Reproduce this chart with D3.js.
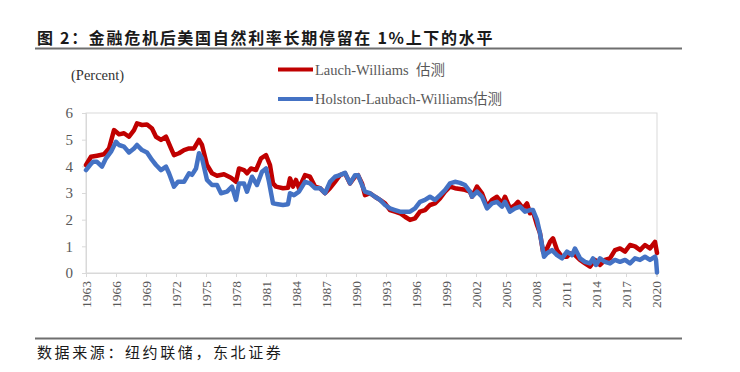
<!DOCTYPE html>
<html>
<head>
<meta charset="utf-8">
<script src="https://cdn.jsdelivr.net/npm/d3@7"></script>
<style>
  html, body { margin: 0; padding: 0; background: #fff; }
  svg { display: block; }
</style>
</head>
<body>
<svg id="chart" width="740" height="372"></svg>
<script>
const titleText = "图 2：金融危机后美国自然利率长期停留在 1%上下的水平";
const sourceText = "数据来源：纽约联储，东北证券";
const unitText = "(Percent)";
const seriesNames = ["Lauch-Williams  估测", "Holston-Laubach-Williams估测"];
const yTicks = [0, 1, 2, 3, 4, 5, 6];
const xTickYears = [1963, 1966, 1969, 1972, 1975, 1978, 1981, 1984, 1987, 1990, 1993, 1996, 1999, 2002, 2005, 2008, 2011, 2014, 2017, 2020];

const lwYears = [1963.0,1963.5,1964.1,1964.8,1965.3,1965.8,1966.3,1966.8,1967.3,1967.8,1968.1,1968.6,1969.1,1969.6,1970.0,1970.5,1971.0,1971.5,1971.8,1972.3,1972.8,1973.3,1973.8,1974.3,1974.6,1975.1,1975.6,1976.1,1976.8,1977.5,1978.0,1978.3,1978.8,1979.1,1979.5,1980.0,1980.5,1981.0,1981.4,1981.7,1982.0,1982.7,1983.2,1983.4,1983.7,1984.0,1984.3,1984.9,1985.4,1985.9,1986.4,1986.9,1987.4,1987.9,1988.4,1988.9,1989.4,1989.9,1990.2,1990.6,1990.9,1991.4,1991.9,1992.4,1992.9,1993.4,1993.9,1994.4,1994.9,1995.4,1995.9,1996.4,1996.9,1997.4,1997.9,1998.4,1998.9,1999.4,1999.9,2000.4,2000.9,2001.4,2001.6,2002.1,2002.6,2003.1,2003.6,2004.1,2004.6,2004.9,2005.4,2005.9,2006.2,2006.7,2007.1,2007.4,2007.7,2008.1,2008.4,2008.7,2009.1,2009.4,2009.7,2010.1,2010.6,2011.1,2011.4,2011.9,2012.4,2012.9,2013.4,2013.9,2014.4,2014.9,2015.4,2015.9,2016.4,2016.9,2017.4,2017.9,2018.4,2018.9,2019.4,2019.9,2020.1];
const lwValues = [4.05,4.36,4.40,4.45,4.67,5.36,5.20,5.24,5.11,5.36,5.61,5.55,5.57,5.42,5.11,4.99,5.11,4.67,4.42,4.49,4.61,4.67,4.67,4.99,4.80,4.05,3.74,3.65,3.70,3.57,3.42,3.92,3.86,3.74,3.92,3.86,4.30,4.42,4.05,3.36,3.24,3.18,3.20,3.55,3.24,3.49,3.18,3.67,3.61,3.24,3.18,2.99,3.18,3.42,3.67,3.74,3.36,3.61,3.67,3.36,2.92,2.99,2.86,2.74,2.61,2.36,2.30,2.24,2.11,1.99,2.05,2.30,2.36,2.55,2.61,2.80,3.05,3.24,3.18,3.15,3.12,3.05,2.86,3.24,2.99,2.49,2.74,2.86,2.61,2.86,2.42,2.55,2.67,2.42,2.61,2.24,2.30,1.80,1.49,0.80,0.92,1.17,1.30,0.86,0.61,0.61,0.74,0.67,0.49,0.36,0.24,0.49,0.30,0.49,0.55,0.86,0.92,0.80,1.05,1.00,0.86,1.05,0.92,1.17,0.75];

const hlwYears = [1963.0,1963.4,1963.7,1964.1,1964.6,1965.0,1965.5,1966.0,1966.3,1966.8,1967.3,1967.8,1968.1,1968.6,1969.1,1969.6,1970.0,1970.5,1971.0,1971.3,1971.8,1972.2,1972.8,1973.3,1973.6,1974.0,1974.3,1974.6,1975.1,1975.6,1976.1,1976.5,1977.1,1977.6,1978.0,1978.3,1978.8,1979.1,1979.6,1980.1,1980.6,1981.0,1981.3,1981.7,1982.2,1982.7,1983.2,1983.4,1983.8,1984.3,1984.9,1985.4,1985.9,1986.4,1986.9,1987.4,1987.9,1988.4,1988.9,1989.4,1989.9,1990.2,1990.6,1990.9,1991.4,1991.9,1992.4,1992.9,1993.4,1993.9,1994.4,1994.9,1995.4,1995.9,1996.4,1996.9,1997.4,1997.9,1998.4,1998.9,1999.4,1999.9,2000.4,2000.9,2001.4,2001.6,2002.1,2002.6,2003.1,2003.6,2004.1,2004.6,2004.9,2005.4,2005.9,2006.4,2006.9,2007.4,2007.7,2008.1,2008.4,2008.8,2009.1,2009.6,2010.1,2010.6,2011.1,2011.6,2011.9,2012.4,2012.9,2013.4,2013.7,2014.0,2014.4,2014.9,2015.4,2015.9,2016.4,2016.9,2017.4,2017.9,2018.4,2018.9,2019.4,2019.9,2020.0,2020.1];
const hlwValues = [3.86,4.05,4.17,4.17,3.99,4.30,4.55,4.92,4.80,4.74,4.52,4.67,4.80,4.61,4.52,4.24,4.05,3.86,3.99,3.74,3.24,3.42,3.42,3.74,3.68,3.92,4.49,4.30,3.49,3.30,3.30,2.99,3.05,3.24,2.74,3.36,3.36,3.05,3.61,3.30,3.80,3.92,3.42,2.61,2.58,2.55,2.58,2.99,2.92,3.05,3.42,3.36,3.18,3.18,2.99,3.42,3.61,3.67,3.76,3.36,3.67,3.67,3.30,3.05,2.99,2.86,2.74,2.55,2.42,2.36,2.30,2.30,2.30,2.42,2.67,2.74,2.86,2.74,2.92,3.11,3.36,3.42,3.38,3.30,3.05,2.86,3.05,2.86,2.42,2.61,2.67,2.49,2.67,2.30,2.42,2.49,2.30,2.36,2.36,1.99,1.49,0.61,0.74,0.86,0.67,0.55,0.80,0.67,0.92,0.55,0.42,0.36,0.55,0.30,0.55,0.42,0.36,0.49,0.42,0.49,0.36,0.55,0.49,0.61,0.49,0.61,0.50,0.02];

const colors = ["#C00000", "#4472C4"];
const axisGray = "#D9D9D9";
const textGray = "#595959";

const svg = d3.select("#chart");
const plot = { left: 86, right: 657, top: 113, bottom: 273 };

const x = d3.scaleLinear().domain([1963, 2020.1]).range([plot.left, plot.right]);
const y = d3.scaleLinear().domain([0, 6]).range([plot.bottom, plot.top]);

// Title
svg.append("text")
  .attr("x", 37).attr("y", 44)
  .attr("font-family", "'Noto Sans CJK SC', sans-serif")
  .attr("font-weight", "bold")
  .attr("font-size", 16)
  .attr("letter-spacing", 1.7)
  .attr("fill", "#1a1a1a")
  .text(titleText);
svg.append("line").attr("x1", 35).attr("x2", 682).attr("y1", 48.5).attr("y2", 48.5)
  .attr("stroke", "#6f6f6f").attr("stroke-width", 2);

// Source
svg.append("line").attr("x1", 35).attr("x2", 682).attr("y1", 338.5).attr("y2", 338.5)
  .attr("stroke", "#6f6f6f").attr("stroke-width", 2);
svg.append("text")
  .attr("x", 37).attr("y", 358)
  .attr("font-family", "'Noto Sans CJK SC', sans-serif")
  .attr("font-size", 15)
  .attr("letter-spacing", 2.6)
  .attr("fill", "#1a1a1a")
  .text(sourceText);

// Unit label
svg.append("text")
  .attr("x", 71).attr("y", 80)
  .attr("font-family", "'Liberation Serif', 'Times New Roman', serif")
  .attr("font-size", 14.5)
  .attr("fill", "#333")
  .text(unitText);

// Frame
svg.append("rect")
  .attr("x", plot.left).attr("y", plot.top)
  .attr("width", plot.right - plot.left).attr("height", plot.bottom - plot.top)
  .attr("fill", "none").attr("stroke", axisGray).attr("stroke-width", 1);

// Y axis
const yAxis = svg.append("g")
  .attr("transform", `translate(${plot.left},0)`)
  .call(d3.axisLeft(y).tickValues(yTicks).tickSize(4).tickPadding(9).tickFormat(d3.format("d")));
yAxis.select(".domain").attr("stroke", axisGray);
yAxis.selectAll(".tick line").attr("stroke", axisGray);
yAxis.selectAll(".tick text")
  .attr("font-family", "'Liberation Serif', 'Times New Roman', serif")
  .attr("font-size", 15).attr("fill", textGray);

// X axis
const xAxis = svg.append("g")
  .attr("transform", `translate(0,${plot.bottom})`)
  .call(d3.axisBottom(x).tickValues(xTickYears).tickSize(4).tickFormat(d3.format("d")));
xAxis.select(".domain").attr("stroke", axisGray);
xAxis.selectAll(".tick line").attr("stroke", axisGray);
xAxis.selectAll(".tick text")
  .attr("font-family", "'Liberation Serif', 'Times New Roman', serif")
  .attr("font-size", 13.5).attr("fill", textGray)
  .attr("transform", "rotate(-90)")
  .attr("text-anchor", "end")
  .attr("x", -8).attr("y", 0).attr("dy", "0.35em");

// Lines
const line = d3.line().x(d => x(d[0])).y(d => y(d[1])).curve(d3.curveLinear);
const series = [
  d3.zip(lwYears, lwValues),
  d3.zip(hlwYears, hlwValues)
];
series.forEach((s, i) => {
  svg.append("path")
    .datum(s)
    .attr("d", line)
    .attr("fill", "none")
    .attr("stroke", colors[i])
    .attr("stroke-width", 4.5)
    .attr("stroke-linejoin", "round")
    .attr("stroke-linecap", "round");
});

// Legend
const legendY = [69.5, 99];
seriesNames.forEach((name, i) => {
  svg.append("line")
    .attr("x1", 278).attr("x2", 313)
    .attr("y1", legendY[i]).attr("y2", legendY[i])
    .attr("stroke", colors[i]).attr("stroke-width", 4);
  svg.append("text")
    .attr("x", 315).attr("y", legendY[i] + 5)
    .attr("font-family", "'Liberation Serif', 'Times New Roman', 'Noto Sans CJK SC', serif")
    .attr("font-size", 14.5)
    .attr("fill", textGray)
    .style("white-space", "pre")
    .text(name);
});
</script>
</body>
</html>
